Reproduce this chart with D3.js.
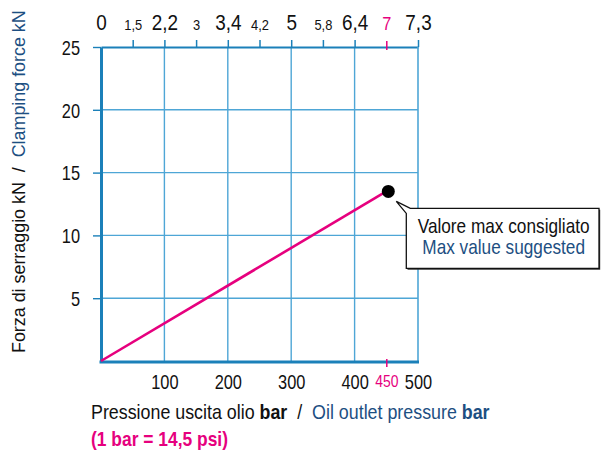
<!DOCTYPE html>
<html>
<head>
<meta charset="utf-8">
<script src="https://cdn.jsdelivr.net/npm/d3@7/dist/d3.min.js"></script>
<style>
  html, body { margin: 0; padding: 0; background: #fff; }
  svg { display: block; }
  text { font-family: 'Liberation Sans', Arial, sans-serif; }
</style>
</head>
<body>
<svg id="chart" width="602" height="452"></svg>
<script>
// Clamping force vs oil outlet pressure
const pressure = [0, 450];          // bar
const force = [0, 13.5];            // kN
const xTickValues = [100, 200, 300, 400, 450, 500];
const yTickValues = [5, 10, 15, 20, 25];
const topTickPositions = [0, 50, 100, 150, 200, 250, 300, 350, 400, 450, 500]; // bar
const topTickLabels = ["0", "1,5", "2,2", "3", "3,4", "4,2", "5", "5,8", "6,4", "7", "7,3"];
const maxPressure = 450;

const BLUE = "#1b80b9";
const GRID = "#4ea6d6";
const MAGENTA = "#e6007e";
const NAVY = "#1d4f82";

const W = 602, H = 452;
const margin = { top: 47, right: 184, bottom: 91, left: 101 };

const svg = d3.select("#chart");
const x = d3.scaleLinear().domain([0, 500]).range([margin.left, W - margin.right]);
const y = d3.scaleLinear().domain([0, 25]).range([H - margin.bottom, margin.top]);

// condensed look: squeeze text horizontally around its anchor
function squeeze(sel, s) {
  sel.each(function () {
    const t = d3.select(this);
    const xv = +t.attr("x") || 0;
    t.attr("x", xv / s).attr("transform", `scale(${s},1)`);
  });
}
// horizontal factor that makes a text span the given width
function fitWidth(textSel, width) {
  const natural = textSel.node().getComputedTextLength();
  return width / natural;
}

// grid
const grid = svg.append("g");
grid.selectAll("line.v").data([100, 200, 300, 400]).join("line")
  .attr("x1", d => x(d)).attr("x2", d => x(d))
  .attr("y1", y(0)).attr("y2", y(25))
  .attr("stroke", GRID).attr("stroke-width", 1.4);
grid.selectAll("line.h").data([5, 10, 15, 20]).join("line")
  .attr("x1", x(0)).attr("x2", x(500))
  .attr("y1", d => y(d)).attr("y2", d => y(d))
  .attr("stroke", GRID).attr("stroke-width", 1.4);

// top secondary axis
const topAxis = svg.append("g")
  .attr("transform", `translate(0,${y(25)})`)
  .call(d3.axisTop(x).tickValues(topTickPositions)
    .tickFormat((d, i) => topTickLabels[i]).tickSize(7).tickSizeOuter(0));
topAxis.select(".domain").attr("stroke", BLUE).attr("stroke-width", 2);
topAxis.selectAll(".tick line")
  .attr("stroke", d => d === 0 ? "none" : (d === maxPressure ? MAGENTA : BLUE))
  .attr("stroke-width", 1.5)
  .attr("y2", d => d === maxPressure ? -6 : -7)
  .attr("y1", d => d === maxPressure ? 3 : 0);
topAxis.selectAll(".tick text")
  .attr("y", -17)
  .attr("fill", d => d === maxPressure ? MAGENTA : "#111")
  .style("font-size", d => d === maxPressure ? "19px" : (d % 100 === 0 ? "22px" : "15px"))
  .call(squeeze, 0.86);

// right border
svg.append("line")
  .attr("x1", x(500)).attr("x2", x(500))
  .attr("y1", y(0)).attr("y2", y(25))
  .attr("stroke", GRID).attr("stroke-width", 1.6);

// left axis
const leftAxis = svg.append("g")
  .attr("transform", `translate(${x(0)},0)`)
  .call(d3.axisLeft(y).tickValues(yTickValues).tickSize(8).tickSizeOuter(0));
leftAxis.select(".domain").attr("stroke", BLUE).attr("stroke-width", 3);
leftAxis.selectAll(".tick line").attr("stroke", BLUE).attr("stroke-width", 1.4);
leftAxis.selectAll(".tick text").attr("x", -21).attr("dy", "0.36em")
  .attr("fill", "#111").style("font-size", "20px")
  .call(squeeze, 0.82);

// bottom axis
const bottomAxis = svg.append("g")
  .attr("transform", `translate(0,${y(0) + 1})`)
  .call(d3.axisBottom(x).tickValues(xTickValues).tickSize(0).tickSizeOuter(0));
bottomAxis.select(".domain").attr("stroke", BLUE).attr("stroke-width", 3)
  .attr("d", `M${x(0) - 1.5},0H${x(500) + 1}`);
bottomAxis.selectAll(".tick line")
  .attr("stroke", d => d === maxPressure ? MAGENTA : "none")
  .attr("stroke-width", 1.5).attr("y1", -3).attr("y2", 5);
bottomAxis.selectAll(".tick text")
  .attr("y", 13)
  .attr("fill", d => d === maxPressure ? MAGENTA : "#111")
  .style("font-size", d => d === maxPressure ? "17px" : "20px")
  .call(squeeze, 0.82);

// force line and max point
const pts = pressure.map((p, i) => [x(p), y(force[i])]);
svg.append("path")
  .attr("d", d3.line()(pts))
  .attr("fill", "none").attr("stroke", MAGENTA).attr("stroke-width", 2.6);
const [mx, my] = pts[pts.length - 1];
svg.append("circle").attr("cx", mx + 2).attr("cy", my).attr("r", 6.5).attr("fill", "#000");

// callout
const tipX = mx + 10, tipY = my + 10;
const bx0 = mx + 20, bx1 = 599, by0 = my + 17, by1 = my + 77;
const boxPath = `M${tipX},${tipY}L${bx0 + 4},${by0}H${bx1}V${by1}H${bx0}V${by0 + 5}Z`;
const callout = svg.append("g");
callout.append("path").attr("d", boxPath)
  .attr("transform", "translate(1.2,1.2)").attr("fill", "#333");
callout.append("path").attr("d", boxPath)
  .attr("fill", "#fff").attr("stroke", "#111").attr("stroke-width", 1.3);
const cx = (bx0 + bx1) / 2 + 1;
const l1 = callout.append("g").attr("transform", `translate(${cx},${by0 + 25})`)
  .append("text").attr("text-anchor", "middle").attr("fill", "#111")
  .style("font-size", "20px").text("Valore max consigliato");
const l2 = callout.append("g").attr("transform", `translate(${cx},${by0 + 46})`)
  .append("text").attr("text-anchor", "middle").attr("fill", NAVY)
  .style("font-size", "20px").text("Max value suggested");
const sBox = fitWidth(l1, 172);
l1.attr("transform", `scale(${sBox},1)`);
l2.attr("transform", `scale(${sBox},1)`);

// y axis title
const yTitleG = svg.append("g").attr("transform", `translate(25,${y(0) - 8}) rotate(-90)`);
const yTitle = yTitleG.append("text").style("font-size", "19px").style("white-space", "pre");
yTitle.append("tspan").attr("fill", "#111").text("Forza di serraggio kN  /  ");
yTitle.append("tspan").attr("fill", NAVY).text("Clamping force kN");
yTitle.attr("transform", `scale(${fitWidth(yTitle, 343)},1)`);

// x axis title
const xTitleG = svg.append("g").attr("transform", "translate(91,419)");
const xTitle = xTitleG.append("text").style("font-size", "20px").style("white-space", "pre");
xTitle.append("tspan").attr("fill", "#111").text("Pressione uscita olio ");
xTitle.append("tspan").attr("fill", "#111").attr("font-weight", "bold").text("bar");
xTitle.append("tspan").attr("fill", "#111").text("  /  ");
xTitle.append("tspan").attr("fill", NAVY).text("Oil outlet pressure ");
xTitle.append("tspan").attr("fill", NAVY).attr("font-weight", "bold").text("bar");
xTitle.attr("transform", `scale(${fitWidth(xTitle, 399)},1)`);

const noteG = svg.append("g").attr("transform", "translate(91,446)");
const note = noteG.append("text")
  .attr("fill", MAGENTA).attr("font-weight", "bold").style("font-size", "20px")
  .text("(1 bar = 14,5 psi)");
note.attr("transform", `scale(${fitWidth(note, 137)},1)`);
</script>
</body>
</html>
